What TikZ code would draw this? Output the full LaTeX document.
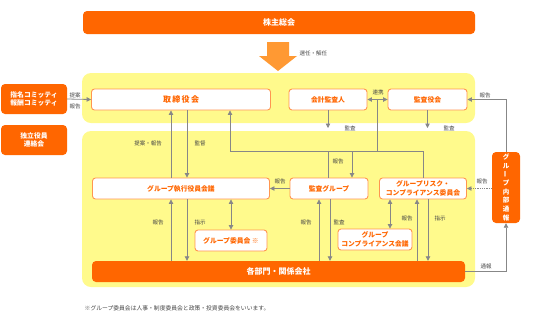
\documentclass[tikz,border=0pt]{standalone}
\usepackage{fontspec}
\setmainfont{Noto Sans CJK JP}
\definecolor{corpor}{RGB}{255,102,0}
\definecolor{arrowor}{RGB}{255,153,51}
\definecolor{edgeor}{RGB}{255,150,80}
\definecolor{paleyel}{RGB}{255,250,140}
\definecolor{linegray}{RGB}{135,135,135}
\definecolor{notegray}{RGB}{70,70,70}
\usetikzlibrary{arrows.meta, calc}

\begin{document}
\begin{tikzpicture}[
  x=1pt, y=-1pt,
  obox/.style={draw=edgeor, line width=0.9pt, fill=white, rounded corners=3pt, inner sep=1pt,
    text=corpor, font=\fontsize{6.8}{8.5}\selectfont\bfseries, align=center},
  fbox/.style={fill=corpor, rounded corners=4pt, inner sep=1pt, text=white,
    font=\fontsize{6.8}{8.5}\selectfont\bfseries, align=center},
  zone/.style={fill=paleyel, rounded corners=9pt},
  lbl/.style={inner sep=0.5pt, text=notegray, font=\fontsize{5.5}{7}\selectfont},
  arr/.style={draw=linegray, line width=0.8pt, -{Triangle[width=4.5pt,length=4.5pt]}},
  arrboth/.style={draw=linegray, line width=0.8pt, {Triangle[width=4.5pt,length=4.5pt]}-{Triangle[width=4.5pt,length=4.5pt]}},
  wire/.style={draw=linegray, line width=0.8pt}
]
  \useasboundingbox (0,0) rectangle (534,325);

  % background zones
  \fill[zone] (82,73) rectangle (475,123);
  \fill[zone] (82,131) rectangle (475,287);

  % shareholders and election arrow
  \node[fbox, minimum width=392pt, minimum height=23pt, font=\fontsize{8}{9}\selectfont\bfseries] (meeting) at (279,22.5) {株主総会};
  \fill[arrowor] (267,42) -- (289,42) -- (289,56) -- (297,56) -- (278,71) -- (259,56) -- (267,56) -- cycle;
  \node[lbl, anchor=west] (elect) at (299,53) {選任・解任};

  % left committees
  \node[fbox, minimum width=66pt, minimum height=30pt] (nomin) at (34,99) {指名コミッティ\\報酬コミッティ};
  \node[fbox, minimum width=66pt, minimum height=30pt] (indep) at (34,140) {独立役員\\連絡会};

  % top row
  \node[obox, minimum width=179pt, minimum height=21pt, font=\fontsize{8}{9}\selectfont\bfseries] (board) at (181,99.5) {取\,締\,役\,会};
  \node[obox, minimum width=78pt, minimum height=21pt] (accaud) at (328,99.5) {会計監査人};
  \node[obox, minimum width=79pt, minimum height=21pt] (kansa) at (427.5,99.5) {監査役会};

  % middle row
  \node[obox, minimum width=177pt, minimum height=21pt] (exec) at (181,188.5) {グループ執行役員会議};
  \node[obox, minimum width=78pt, minimum height=21pt] (auditgrp) at (329,188.5) {監査グループ};
  \node[obox, minimum width=87pt, minimum height=21pt] (risk) at (423,188.5) {グループリスク・\\コンプライアンス委員会};
  \node[fbox, minimum width=28pt, minimum height=71pt, font=\fontsize{6.5}{8.6}\selectfont\bfseries] (hotline) at (506,187.5) {グ\\ル\\\rotatebox{90}{ー}\\プ\\内\\部\\通\\報};

  % lower row
  \node[obox, minimum width=72pt, minimum height=21pt] (grpcom) at (231,240.5) {グループ委員会 ※};
  \node[obox, minimum width=74pt, minimum height=21pt] (compmtg) at (375,239.5) {グループ\\コンプライアンス会議};
  \node[fbox, minimum width=373pt, minimum height=21pt, font=\fontsize{8}{9}\selectfont\bfseries] (depts) at (278.5,271.5) {各部門・関係会社};

  % committees to board
  \draw[arr] (nomin.east) -- (board.west);
  \node[lbl] (nomprop) at (75,95) {提案};
  \node[lbl] (nomrep) at (75,106) {報告};

  % board and executive meeting
  \draw[arr] ([xshift=-10pt]exec.north) -- ([xshift=-10pt]board.south);
  \draw[arr] ([xshift=6pt]board.south) -- ([xshift=6pt]exec.north);
  \node[lbl] (propup) at (148,143) {提案・報告};
  \node[lbl] (superv) at (200,143) {監督};

  % audit bus
  \coordinate (bus) at (230,151);
  \coordinate (link) at ($(accaud.east)!0.5!(kansa.west)$);
  \draw[arrboth] (accaud.east) -- (kansa.west);
  \node[lbl] (linklbl) at (378,92) {連携};
  \draw[arr] (risk.north |- bus) -- (bus) -- (bus |- board.south);
  \draw[wire] (link) -- (link |- bus);
  \draw[wire] (risk.north) -- (risk.north |- bus);
  \draw[wire] ([xshift=-1pt]auditgrp.north) -- ([xshift=-1pt]auditgrp.north |- bus);
  \draw[arr] ([xshift=23pt]auditgrp.north |- bus) -- ([xshift=23pt]auditgrp.north);
  \node[lbl] (busrep) at (338,161) {報告};

  % audits
  \coordinate (audA) at (328,128);
  \coordinate (audB) at (427.5,128);
  \draw[arr] (accaud.south) -- (audA);
  \draw[arr] (kansa.south) -- (audB);
  \node[lbl] (audAlbl) at (350,128) {監査};
  \node[lbl] (audBlbl) at (449,128) {監査};

  % hotline
  \draw[arr] (hotline.north) |- (kansa.east);
  \node[lbl] (hotrep) at (485,95) {報告};
  \draw[arr, densely dotted] (hotline.west |- risk.east) -- (risk.east);
  \node[lbl] (riskrep) at (482,181) {報告};
  \draw[arr] (depts.east) -| (hotline.south);
  \node[lbl] (notify) at (486,266) {通報};

  % audit group to executive meeting
  \draw[arr] (auditgrp.west) -- (exec.east);
  \node[lbl] (agrep) at (280,181) {報告};

  % executive meeting and departments
  \draw[arr] ([xshift=-10pt]exec.south |- depts.north) -- ([xshift=-10pt]exec.south);
  \draw[arr] ([xshift=6pt]exec.south) -- ([xshift=6pt]exec.south |- depts.north);
  \node[lbl] (exrep) at (158,222) {報告};
  \node[lbl] (exins) at (200,222) {指示};
  \draw[arrboth] (grpcom.north |- exec.south) -- (grpcom.north);

  % audit group and departments
  \draw[arr] ([xshift=-10pt]auditgrp.south |- depts.north) -- ([xshift=-10pt]auditgrp.south);
  \draw[arr] ([xshift=1pt]auditgrp.south) -- ([xshift=1pt]auditgrp.south |- depts.north);
  \node[lbl] (agrep2) at (306,222) {報告};
  \node[lbl] (agaud) at (339,222) {監査};

  % risk committee, compliance meeting and departments
  \draw[arrboth] ([xshift=15pt]compmtg.north |- risk.south) -- ([xshift=15pt]compmtg.north);
  \draw[arr] ([xshift=-6pt]risk.south |- depts.north) -- ([xshift=-6pt]risk.south);
  \draw[arr] ([xshift=5pt]risk.south) -- ([xshift=5pt]risk.south |- depts.north);
  \node[lbl] (rkrep) at (407,218) {報告};
  \node[lbl] (rkins) at (440,218) {指示};

  % footnote
  \node[lbl, anchor=west, font=\fontsize{5.8}{7}\selectfont] (note) at (84,308) {※グループ委員会は人事・制度委員会と政策・投資委員会をいいます。};
\end{tikzpicture}
\end{document}
